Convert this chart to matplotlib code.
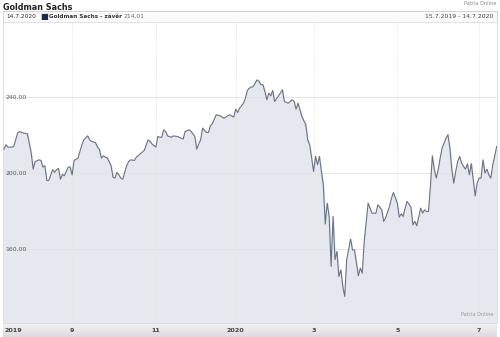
import matplotlib
matplotlib.use("Agg")
import matplotlib.pyplot as plt
import numpy as np

# trading-day index (0 = 15.7.2019) and closing price
days = [0, 1, 2, 4, 5, 7, 8, 10, 12, 13, 14, 15, 16, 18, 19, 20, 21, 22, 23, 25,
        26, 27, 28, 29, 30, 31, 33, 34, 35, 36, 38, 40, 41, 43, 44, 45, 47, 48, 49, 50,
        51, 52, 53, 55, 56, 57, 58, 59, 60, 61, 63, 64, 65, 67, 68, 70, 72, 74, 75, 76,
        78, 79, 80, 81, 82, 83, 84, 86, 87, 89, 90, 92, 93, 95, 96, 98, 99, 100, 101, 102,
        103, 104, 105, 106, 107, 109, 111, 113, 115, 116, 118, 119, 120, 121, 123, 124, 125, 126, 127, 128,
        130, 131, 132, 133, 134, 135, 136, 137, 138, 139, 141, 143, 144, 146, 148, 149, 150, 151, 152, 153,
        155, 156, 157, 158, 159, 160, 161, 162, 163, 164, 165, 166, 167, 168, 169, 170, 171, 172, 173, 174,
        175, 176, 178, 179, 180, 182, 183, 184, 185, 187, 189, 191, 192, 194, 195, 196, 198, 199, 200, 202,
        203, 204, 205, 206, 207, 209, 210, 211, 212, 214, 215, 216, 217, 218, 219, 220, 221, 222, 223, 224,
        225, 227, 228, 229, 230, 231, 232, 233, 234, 235, 236, 237, 238, 239, 240, 242, 243, 244, 245, 246,
        247, 248, 249, 250, 251, 252, 253]
close = [212.6, 214.9, 213.7, 213.7, 214.0, 221.1, 221.9, 221.1, 220.7, 215.8, 210.5, 202.1, 206.1, 207.0, 206.7, 203.2, 203.9, 196.1, 196.1, 201.8,
         200.4, 201.8, 202.5, 196.8, 199.3, 198.6, 203.2, 203.2, 199.1, 206.7, 207.9, 214.9, 217.5, 219.6, 217.5, 216.7, 216.1, 213.7, 212.6, 207.9,
         209.1, 208.4, 208.1, 203.9, 197.9, 197.4, 200.4, 199.1, 197.4, 196.8, 203.9, 206.1, 207.0, 206.7, 208.4, 210.2, 211.9, 217.5, 216.7, 215.4,
         213.7, 219.3, 218.9, 218.9, 222.8, 221.9, 219.6, 218.9, 219.6, 219.3, 218.9, 217.9, 221.9, 222.8, 222.1, 219.3, 212.6, 215.4, 217.5, 223.7,
         222.5, 221.4, 221.4, 224.9, 226.0, 230.7, 230.2, 228.9, 230.2, 230.7, 229.5, 233.7, 231.9, 234.2, 236.8, 239.5, 243.5, 244.7, 245.3, 245.6,
         249.1, 248.2, 246.5, 246.5, 243.0, 238.6, 242.1, 240.7, 243.5, 237.7, 240.7, 243.9, 237.7, 236.8, 238.6, 237.7, 233.7, 236.8, 233.3, 229.8,
         225.4, 217.5, 214.9, 207.9, 200.9, 208.8, 204.4, 208.8, 200.9, 193.9, 173.2, 184.2, 177.2, 150.9, 177.2, 154.4, 158.8, 145.6, 149.1, 140.4,
         135.1, 154.4, 165.3, 159.6, 159.6, 146.0, 150.0, 147.4, 164.0, 184.2, 178.9, 178.9, 183.3, 180.7, 174.6, 176.5, 182.5, 186.8, 189.8, 184.2,
         176.8, 178.6, 177.2, 181.6, 185.1, 182.1, 172.8, 174.6, 172.3, 181.6, 178.9, 180.7, 179.8, 179.8, 193.0, 209.1, 201.8, 197.4, 201.8, 207.9,
         213.2, 218.4, 220.2, 213.2, 201.8, 194.7, 200.9, 206.1, 208.8, 205.3, 203.5, 202.1, 204.9, 199.1, 205.0, 188.0, 194.7, 197.4, 197.4, 207.0,
         200.0, 202.1, 199.1, 197.4, 204.4, 208.8, 214.0]

month_pos = [35, 78, 119, 159, 202, 244]
month_labels = ["9", "11", "2020", "3", "5", "7"]
y_ticks = [160, 200, 240]
y_labels = ["160,00", "200,00", "240,00"]

fig = plt.figure(figsize=(5, 3.37), dpi=100)
fig.patch.set_facecolor("white")

# title and source
fig.text(0.006, 0.978, "Goldman Sachs", fontsize=5.8, fontweight="bold", color="#222222", va="center")
fig.text(0.994, 0.99, "Patria Online", fontsize=3.6, color="#888888", ha="right", va="center")

# header bar
hdr = fig.add_axes([0.006, 0.935, 0.988, 0.032])
hdr.set_xlim(0, 1)
hdr.set_ylim(0, 1)
hdr.set_xticks([])
hdr.set_yticks([])
hdr.set_facecolor("#fbfbfb")
for s in hdr.spines.values():
    s.set_color("#cccccc")
    s.set_linewidth(0.6)
hdr.text(0.006, 0.5, "14.7.2020", fontsize=4.2, color="#333333", va="center")
hdr.text(0.075, 0.5, "\u25a0", fontsize=6, color="#1b2a4a", va="center")
hdr.text(0.093, 0.5, "Goldman Sachs - závěr", fontsize=4.1, fontweight="bold", color="#333333", va="center")
hdr.text(0.244, 0.5, "214,01", fontsize=4.3, color="#666666", va="center")
hdr.text(0.992, 0.5, "15.7.2019 - 14.7.2020", fontsize=4.4, color="#444444", ha="right", va="center")

# bottom label strip
strip = fig.add_axes([0.006, 0.0, 0.988, 0.042])
grad = np.linspace(0, 1, 20).reshape(-1, 1)
strip.imshow(grad, aspect="auto", cmap=matplotlib.colors.LinearSegmentedColormap.from_list("g", ["#f4f4f4", "#dcdcdc"]),
             extent=[0, 1, 0, 1])
strip.set_xlim(0, 1)
strip.set_ylim(0, 1)
strip.axis("off")

ax = fig.add_axes([0.006, 0.042, 0.988, 0.893])
ax.set_facecolor("white")
ax.fill_between(days, close, 100, color="#e5e8ee", zorder=1)
ax.plot(days, close, color="#6a7383", linewidth=0.8, zorder=3)
ax.set_xlim(-0.5, 253.2)
ax.set_ylim(121.2, 279.6)

for y, lab in zip(y_ticks, y_labels):
    ax.axhline(y, color="#e2e2e2", linewidth=0.6, zorder=2)
    ax.text(0.8, y, lab, fontsize=4.4, color="#555555", va="center", zorder=4)
for x in month_pos:
    ax.axvline(x, color="#e4e4e4", linewidth=0.6, linestyle=(0, (1, 1)), zorder=2)

ax.set_xticks(month_pos)
ax.set_xticklabels(month_labels, fontsize=4.6, fontweight="bold", color="#444444")
ax.tick_params(axis="x", length=0, pad=3.5)
ax.set_yticks([])
ax.text(0.3, 118.6, "2019", fontsize=4.6, fontweight="bold", color="#444444", va="top", clip_on=False)
ax.text(0.992, 0.02, "Patria Online", fontsize=3.6, color="#999999", ha="right", va="bottom", transform=ax.transAxes)

for s in ax.spines.values():
    s.set_color("#dddddd")
    s.set_linewidth(0.6)

plt.savefig("out.png", dpi=100)
